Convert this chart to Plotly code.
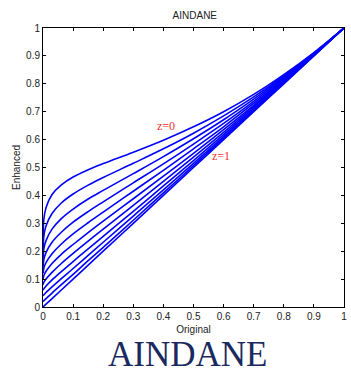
import plotly.graph_objects as go

# Original intensity samples (x) shared by all curves
x_vals = [0, 0.003, 0.01, 0.03, 0.06, 0.1, 0.15, 0.2, 0.3, 0.4, 0.5, 0.6, 0.7, 0.8, 0.9, 1.0]

# Enhanced intensity for each z value
z_labels = [0.0, 0.1, 0.2, 0.3, 0.4, 0.5, 0.6, 0.7, 0.8, 0.9, 1.0]
y_z00 = [0.200, 0.316, 0.356, 0.403, 0.437, 0.466, 0.492, 0.514, 0.555, 0.598, 0.646, 0.700, 0.762, 0.833, 0.912, 1.0]
y_z01 = [0.180, 0.255, 0.290, 0.335, 0.372, 0.405, 0.437, 0.464, 0.515, 0.567, 0.623, 0.685, 0.753, 0.828, 0.910, 1.0]
y_z02 = [0.160, 0.209, 0.238, 0.279, 0.316, 0.351, 0.387, 0.418, 0.478, 0.539, 0.603, 0.671, 0.745, 0.824, 0.909, 1.0]
y_z03 = [0.140, 0.171, 0.195, 0.232, 0.267, 0.304, 0.342, 0.377, 0.445, 0.513, 0.584, 0.658, 0.737, 0.820, 0.908, 1.0]
y_z04 = [0.120, 0.140, 0.159, 0.191, 0.225, 0.262, 0.302, 0.340, 0.415, 0.490, 0.567, 0.646, 0.730, 0.816, 0.906, 1.0]
y_z05 = [0.100, 0.113, 0.128, 0.156, 0.188, 0.224, 0.267, 0.308, 0.388, 0.469, 0.551, 0.636, 0.723, 0.813, 0.905, 1.0]
y_z06 = [0.080, 0.089, 0.100, 0.124, 0.155, 0.192, 0.236, 0.279, 0.364, 0.450, 0.537, 0.626, 0.717, 0.810, 0.904, 1.0]
y_z07 = [0.060, 0.066, 0.075, 0.097, 0.126, 0.163, 0.208, 0.253, 0.343, 0.434, 0.525, 0.618, 0.712, 0.807, 0.903, 1.0]
y_z08 = [0.040, 0.044, 0.052, 0.072, 0.101, 0.138, 0.185, 0.232, 0.326, 0.420, 0.515, 0.611, 0.707, 0.804, 0.902, 1.0]
y_z09 = [0.020, 0.023, 0.030, 0.050, 0.079, 0.117, 0.166, 0.214, 0.311, 0.409, 0.507, 0.605, 0.703, 0.802, 0.901, 1.0]
y_z10 = [0.000, 0.003, 0.010, 0.030, 0.060, 0.100, 0.150, 0.200, 0.300, 0.400, 0.500, 0.600, 0.700, 0.800, 0.900, 1.0]
curves = [y_z00, y_z01, y_z02, y_z03, y_z04, y_z05, y_z06, y_z07, y_z08, y_z09, y_z10]

tick_vals = [0, 0.1, 0.2, 0.3, 0.4, 0.5, 0.6, 0.7, 0.8, 0.9, 1]
tick_text = ["0", "0.1", "0.2", "0.3", "0.4", "0.5", "0.6", "0.7", "0.8", "0.9", "1"]

fig = go.Figure()
for z, ys in zip(z_labels, curves):
    fig.add_trace(go.Scatter(x=x_vals, y=ys, mode="lines", name=f"z={z}",
                             line=dict(color="#0000ff", width=1.6), line_shape="spline",
                             showlegend=False))

axis_common = dict(range=[0, 1], tickvals=tick_vals, ticktext=tick_text, ticks="inside",
                   ticklen=3, tickcolor="#000", showline=True, linecolor="#000", linewidth=1,
                   mirror="ticks", showgrid=False, zeroline=False,
                   tickfont=dict(family="Liberation Sans, Arial", size=10, color="#222"))

fig.update_layout(
    width=351, height=372,
    margin=dict(l=43, r=4, t=28, b=65),
    paper_bgcolor="white", plot_bgcolor="white",
    title=dict(text="AINDANE", x=0.555, xanchor="center", y=1 - 15 / 372, yref="container",
               yanchor="middle", font=dict(family="Liberation Sans, Arial", size=10, color="#222")),
    xaxis=dict(**axis_common, title=dict(text="Original", standoff=4,
                                         font=dict(family="Liberation Sans, Arial", size=10, color="#222"))),
    yaxis=dict(**axis_common, title=dict(text="Enhanced", standoff=3,
                                         font=dict(family="Liberation Sans, Arial", size=10, color="#222"))),
)

fig.add_annotation(x=0.41, y=0.65, xref="x", yref="y", text="z=0", showarrow=False,
                   font=dict(family="Liberation Serif, Times New Roman", size=12, color="#f03030"))
fig.add_annotation(x=0.59, y=0.54, xref="x", yref="y", text="z=1", showarrow=False,
                   font=dict(family="Liberation Serif, Times New Roman", size=12, color="#f03030"))

fig.add_annotation(x=0.48, y=-0.17, xref="paper", yref="paper", text="AINDANE",
                   showarrow=False, xanchor="center", yanchor="middle",
                   font=dict(family="Liberation Serif, Times New Roman", size=35, color="#1a2a5e"))

fig.write_html("out.html", config={"displayModeBar": False},
               post_script="document.body.style.margin='0';")
